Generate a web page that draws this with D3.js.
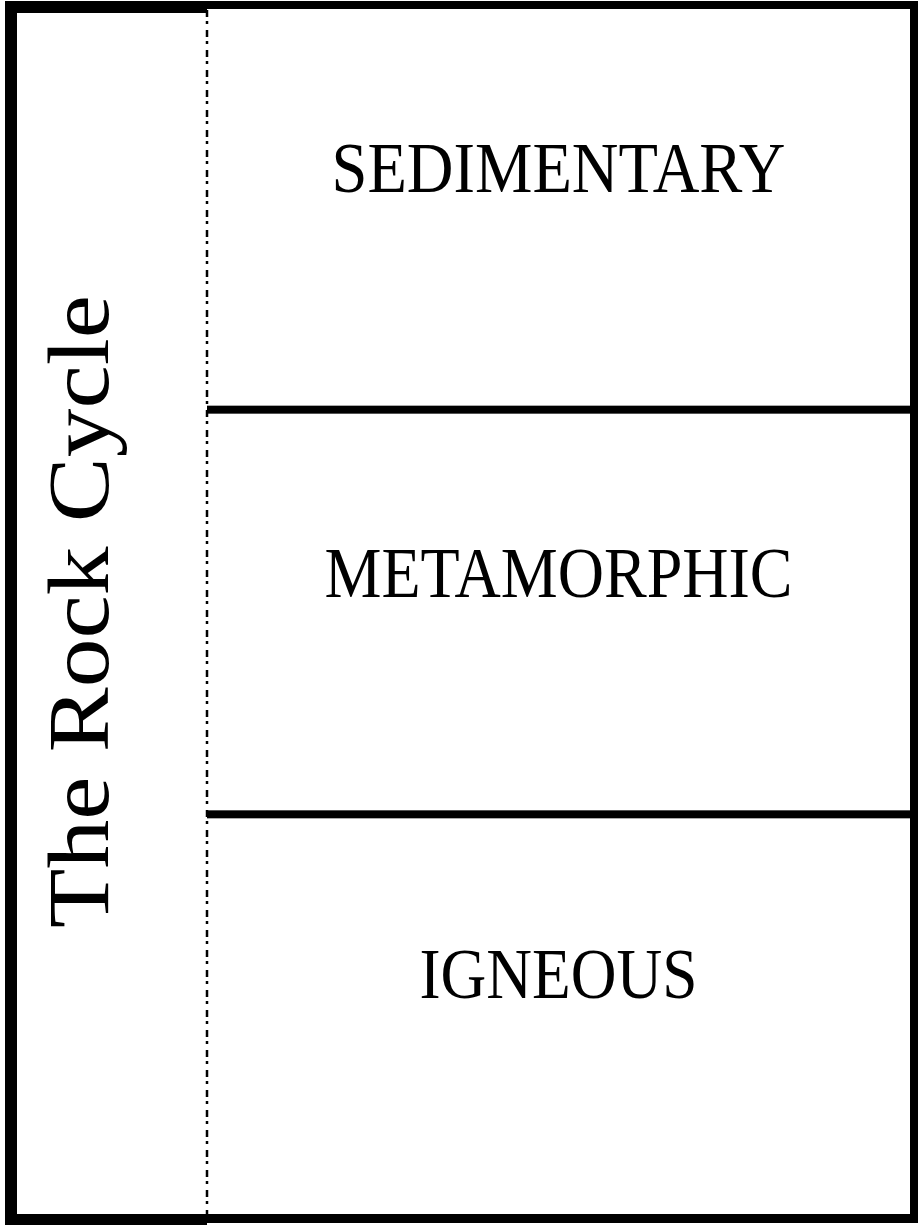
<!DOCTYPE html>
<html>
<head>
<meta charset="utf-8">
<script src="https://cdn.jsdelivr.net/npm/d3@7"></script>
<style>
  html, body { margin: 0; padding: 0; background: #fff; }
  svg { display: block; }
</style>
</head>
<body>
<script>
const title = "The Rock Cycle";
const categories = ["SEDIMENTARY", "METAMORPHIC", "IGNEOUS"];

const W = 918, H = 1225;
const svg = d3.select("body").append("svg")
  .attr("width", W).attr("height", H);

const FONT = "'Liberation Serif', 'Times New Roman', Times, 'DejaVu Serif', serif";

// layout
const leftX = 5, splitX = 207, rightX = 918, topY = 1, bottomY = 1223;
const y = d3.scaleBand().domain(categories).range([5, 1219]);

// left (title) box: thick borders on left, top, bottom
svg.append("rect").attr("x", leftX).attr("y", topY).attr("width", 12).attr("height", H - topY).attr("fill", "#000");
svg.append("rect").attr("x", leftX).attr("y", topY).attr("width", splitX - leftX).attr("height", 12).attr("fill", "#000");
svg.append("rect").attr("x", leftX).attr("y", 1214).attr("width", splitX - leftX).attr("height", 11).attr("fill", "#000");

// right area borders
svg.append("rect").attr("x", splitX).attr("y", topY).attr("width", rightX - splitX).attr("height", 8).attr("fill", "#000");
svg.append("rect").attr("x", 910).attr("y", topY).attr("width", 8).attr("height", bottomY - topY).attr("fill", "#000");
svg.append("rect").attr("x", splitX).attr("y", 1214).attr("width", rightX - splitX).attr("height", 9).attr("fill", "#000");

// dividers between categories
svg.selectAll("rect.div").data(categories.slice(1)).enter().append("rect")
  .attr("class", "div")
  .attr("x", splitX).attr("width", 910 - splitX)
  .attr("y", d => y(d) - 4).attr("height", 8)
  .attr("fill", "#000");

// dashed fold line
svg.append("line")
  .attr("x1", splitX).attr("x2", splitX)
  .attr("y1", 10).attr("y2", 1214)
  .attr("stroke", "#000").attr("stroke-width", 2.5)
  .attr("stroke-dasharray", "7,4,3,6");

// category labels
const cx = (splitX + 910) / 2;
const labelLen = [454, 468, 278];
svg.selectAll("text.cat").data(categories).enter().append("text")
  .attr("class", "cat")
  .attr("transform", (d, i) => `translate(${cx},${y(d) + [187, 187, 184][i]}) scale(1,1.14)`)
  .attr("text-anchor", "middle")
  .attr("font-family", FONT)
  .attr("font-size", 63.4)
  .attr("textLength", (d, i) => labelLen[i])
  .attr("lengthAdjust", "spacingAndGlyphs")
  .attr("fill", "#000")
  .text(d => d);

// rotated title
svg.append("text")
  .attr("transform", `translate(108,611.5) scale(1,1.13) rotate(-90)`)
  .attr("text-anchor", "middle")
  .attr("font-family", FONT)
  .attr("font-size", 86)
  .attr("textLength", 633 / 1.13)
  .attr("lengthAdjust", "spacingAndGlyphs")
  .attr("fill", "#000")
  .text(title);
</script>
</body>
</html>
